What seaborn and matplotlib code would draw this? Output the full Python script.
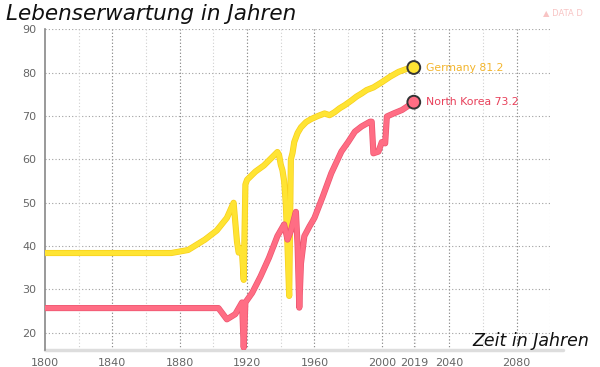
import pandas as pd
import matplotlib.pyplot as plt
import matplotlib.patheffects as pe
import seaborn as sns

# Germany
years_de = [1800, 1875, 1885, 1895, 1902, 1908, 1912, 1914, 1915, 1916, 1917, 1918,
            1919, 1920, 1925, 1930, 1938, 1939, 1940, 1941, 1942, 1943, 1944, 1945,
            1946, 1947, 1948, 1950, 1952, 1955, 1958, 1962, 1966, 1969, 1972, 1975,
            1978, 1982, 1985, 1988, 1991, 1995, 2000, 2005, 2010, 2015, 2019]
life_de = [38.4, 38.4, 39.1, 41.5, 43.6, 46.5, 50.0, 41.0, 38.5, 39.5, 38.5, 32.2,
           54.2, 55.3, 57.2, 58.6, 61.7, 61.0, 58.8, 57.5, 55.0, 49.7, 40.0, 28.5,
           60.0, 61.5, 64.0, 66.1, 67.4, 68.6, 69.3, 70.0, 70.6, 70.2, 70.9, 71.8,
           72.5, 73.6, 74.5, 75.2, 76.0, 76.6, 77.8, 79.1, 80.2, 80.9, 81.2]

# North Korea
years_kp = [1800, 1903, 1908, 1913, 1917, 1918, 1919, 1923, 1928, 1933, 1938, 1942,
            1944, 1946, 1948, 1949, 1950, 1951, 1952, 1954, 1957, 1960, 1965, 1970,
            1976, 1980, 1984, 1988, 1993, 1994, 1995, 1998, 2000, 2002, 2003, 2007,
            2012, 2019]
life_kp = [25.7, 25.7, 23.1, 24.3, 27.0, 16.6, 27.0, 29.2, 33.0, 37.3, 42.3, 45.0,
           41.5, 43.5, 46.5, 47.9, 40.0, 25.8, 36.0, 42.3, 44.5, 46.5, 51.5, 56.8,
           61.8, 64.0, 66.4, 67.6, 68.7, 68.7, 61.4, 61.8, 64.0, 63.7, 69.9, 70.6,
           71.4, 73.2]

countries = ['Germany', 'North Korea']
line_colors = {'Germany': '#ffe433', 'North Korea': '#ff6d84'}
edge_colors = {'Germany': '#f7cf1c', 'North Korea': '#ec5670'}
label_colors = {'Germany': '#f3b52c', 'North Korea': '#e8405a'}

x_ticks = [1800, 1840, 1880, 1920, 1960, 2000, 2019, 2040, 2080]
y_ticks = [20, 30, 40, 50, 60, 70, 80, 90]

df = pd.concat([
    pd.DataFrame({'year': years_de, 'life': life_de, 'country': 'Germany'}),
    pd.DataFrame({'year': years_kp, 'life': life_kp, 'country': 'North Korea'}),
], ignore_index=True)

sns.set_style('white')
fig = plt.figure(figsize=(6, 3.67), dpi=100)
ax = fig.add_axes([0.075, 0.046, 0.842, 0.874])

# grid
for yv in y_ticks:
    ax.axhline(yv, color='#a0a0a0', lw=0.8, ls=(0, (1, 2)), zorder=0)
for xv in range(1820, 2101, 20):
    ax.axvline(xv, color='#cfcfcf', lw=0.8, ls=(0, (1, 2)), zorder=0)
for xv in x_ticks[1:]:
    ax.axvline(xv, color='#8a8a8a', lw=0.8, ls=(0, (1, 2)), zorder=0)

sns.lineplot(data=df, x='year', y='life', hue='country', palette=line_colors,
             lw=3.4, ax=ax, legend=False, sort=False, estimator=None, zorder=3)
for line, c in zip(ax.lines[-2:], countries):
    line.set_solid_capstyle('round')
    line.set_solid_joinstyle('round')
    line.set_path_effects([pe.Stroke(linewidth=4.4, foreground=edge_colors[c]), pe.Normal()])

last = df.groupby('country').tail(1)
sns.scatterplot(data=last, x='year', y='life', hue='country', palette=line_colors,
                s=85, edgecolor='#333333', linewidth=1.4, ax=ax, legend=False, zorder=5)
for _, r in last.iterrows():
    ax.text(r['year'] + 7, r['life'], f"{r['country']} {r['life']:.1f}",
            color=label_colors[r['country']], fontsize=7.8, va='center', ha='left')

ax.set_xlim(1800, 2100)
ax.set_ylim(16, 90)
ax.set_xticks(x_ticks)
ax.set_yticks(y_ticks)
ax.tick_params(axis='both', length=0, labelsize=8, labelcolor='#666666', pad=6)
ax.set_xlabel('')
ax.set_ylabel('')
for s in ['top', 'right']:
    ax.spines[s].set_visible(False)
ax.spines['left'].set_color('#888888')
ax.spines['left'].set_linewidth(1.2)
ax.spines['bottom'].set_visible(False)
ax.plot([0, 1.025], [0, 0], transform=ax.transAxes, color='#dddddd', lw=2.5,
        clip_on=False, zorder=1)

fig.text(0.01, 0.962, 'Lebenserwartung in Jahren', fontsize=15.5,
         fontstyle='italic', color='#111111', va='center', ha='left')
fig.text(0.787, 0.07, 'Zeit in Jahren', fontsize=12.5,
         fontstyle='italic', color='#111111', va='center', ha='left')
fig.text(0.905, 0.965, '▲ DATA D', fontsize=6, color='#f8c4c4', va='center', ha='left')

fig.savefig('out.png', dpi=100)
